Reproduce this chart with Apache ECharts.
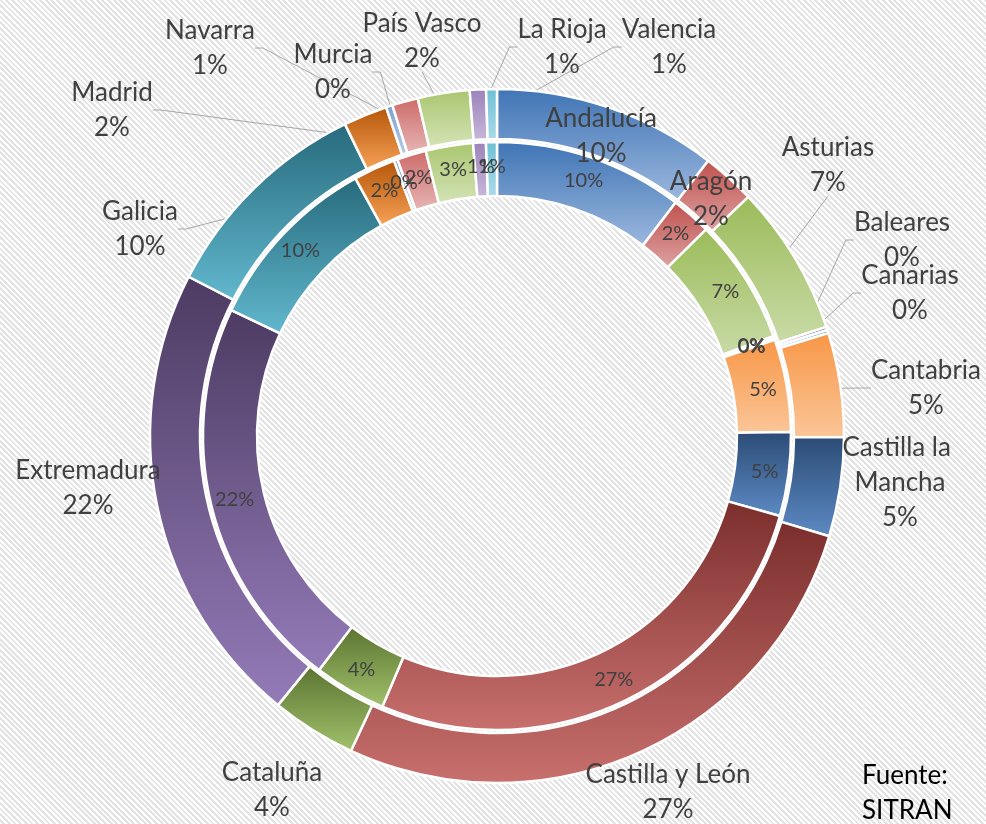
<!DOCTYPE html>
<html>
<head>
<meta charset="utf-8">
<title>Distribución por comunidades</title>
<script src="https://cdn.jsdelivr.net/npm/echarts@6/dist/echarts.min.js"></script>
<style>
    html, body { margin: 0; padding: 0; }
    body {
        width: 986px; height: 824px; overflow: hidden;
        background: repeating-linear-gradient(45deg, #ffffff 0px, #ffffff 2px, #e3e3e3 2px, #e3e3e3 4px);
    }
    #grafico { width: 986px; height: 824px; }
</style>
</head>
<body>
<div id="grafico"></div>
<script>
// comunidades, en el orden de las agujas del reloj
var regiones = ['Andalucía', 'Aragón', 'Asturias', 'Baleares', 'Canarias', 'Cantabria',
    'Castilla la Mancha', 'Castilla y León', 'Cataluña', 'Extremadura', 'Galicia',
    'Madrid', 'Murcia', 'Navarra', 'País Vasco', 'La Rioja', 'Valencia'];

// anillo interior (%)
var pctInterior = [10.4, 2.2, 6.9, 0.1, 0.1, 5.1, 4.6, 27.0, 3.97, 21.7, 9.97,
    2.3, 0.2, 1.6, 2.6, 0.7, 0.6];

// anillo exterior (%)
var pctExterior = [10.36, 2.47, 6.97, 0.15, 0.15, 4.83, 4.58, 27.1, 3.94, 21.6, 10.14,
    2.03, 0.3, 1.2, 2.4, 0.75, 0.5];

// colores: arriba / abajo del degradado
var colorArriba = ['#3f74b5', '#c0504d', '#9bbb59', '#8064a2', '#4bacc6', '#f79646',
    '#2b4b75', '#7a2e2c', '#5a7330', '#4d3b62', '#276a7c', '#b45508',
    '#7d9fd0', '#cc6a68', '#a9c66e', '#9a82b8', '#6cc0d6'];
var colorAbajo = ['#9cb8de', '#dda3a2', '#c9dba7', '#b9a8d1', '#a5d6e4', '#fbc699',
    '#5d8ac4', '#c8706e', '#a2c26c', '#937bb8', '#62b8ce', '#f7a257',
    '#b8cce8', '#e7b6b5', '#d4e3b7', '#c8b8da', '#abdbe8'];

// posición de las etiquetas exteriores (centro del bloque de texto)
var posEtiqueta = {
    'Andalucía': [601, 136], 'Aragón': [711, 199], 'Asturias': [828, 165],
    'Baleares': [902, 240], 'Canarias': [910, 293], 'Cantabria': [926, 388],
    'Castilla la Mancha': [900, 483], 'Castilla y León': [668, 792],
    'Cataluña': [272, 790], 'Extremadura': [88, 488], 'Galicia': [140, 229],
    'Madrid': [112, 110], 'Murcia': [333, 72], 'Navarra': [210, 48],
    'País Vasco': [422, 41], 'La Rioja': [562, 47], 'Valencia': [669, 47]
};
var conLinea = ['Asturias', 'Baleares', 'Canarias', 'Cantabria', 'Galicia', 'Madrid',
    'Murcia', 'Navarra', 'País Vasco', 'La Rioja', 'Valencia'];

var cx = 497, cy = 436;

function degradado(i) {
    return new echarts.graphic.LinearGradient(0, 0, 0, 1, [
        { offset: 0, color: colorArriba[i] },
        { offset: 1, color: colorAbajo[i] }
    ]);
}

function datos(valores, exterior) {
    return regiones.map(function (r, i) {
        var d = { name: r, value: valores[i], itemStyle: { color: degradado(i) } };
        if (exterior && r === 'Castilla la Mancha') {
            d.label = { width: 135, overflow: 'break' };
        }
        return d;
    });
}

function angulosMedios(valores) {
    var total = valores.reduce(function (a, b) { return a + b; }, 0);
    var acum = 0;
    return valores.map(function (v) {
        var a = (acum + v / 2) / total * Math.PI * 2;
        acum += v;
        return a;
    });
}
var angExt = angulosMedios(pctExterior);

function redondeo(p) {
    return Math.round(p.percent) + '%';
}

// linea guía al estilo Excel: desde el centro del sector hasta el lado
// más cercano de la etiqueta (con un tramo corto horizontal si es lateral)
function lineaGuia(sx, sy, pos, w, h) {
    var l = pos[0] - w / 2, r = pos[0] + w / 2;
    if (sx < l - 20) {
        return [[sx, sy], [l - 8, pos[1]], [l, pos[1]]];
    }
    if (sx > r + 20) {
        return [[sx, sy], [r + 8, pos[1]], [r, pos[1]]];
    }
    var ey = sy > pos[1] ? pos[1] + h / 2 - 4 : pos[1] - h / 2 + 4;
    return [[sx, sy], [pos[0], ey]];
}

var myChart = echarts.init(document.getElementById('grafico'));

var option = {
    title: {
        text: 'Fuente:\nSITRAN',
        left: 857, top: 753,
        textStyle: { fontFamily: 'Lato', fontSize: 26, fontWeight: 'normal', color: '#000', lineHeight: 35 }
    },
    series: [
        {
            name: 'interior',
            type: 'pie',
            center: [cx, cy],
            radius: [240, 294],
            startAngle: 90,
            avoidLabelOverlap: false,
            minShowLabelAngle: 0,
            percentPrecision: 2,
            itemStyle: { borderColor: '#ffffff', borderWidth: 2.5 },
            label: {
                position: 'inside',
                formatter: redondeo,
                fontFamily: 'Lato', fontSize: 20, color: '#404040'
            },
            labelLine: { show: false },
            labelLayout: { hideOverlap: false },
            emphasis: { disabled: true },
            data: datos(pctInterior, false)
        },
        {
            name: 'exterior',
            type: 'pie',
            center: [cx, cy],
            radius: [297, 347],
            startAngle: 90,
            avoidLabelOverlap: false,
            percentPrecision: 2,
            itemStyle: { borderColor: '#ffffff', borderWidth: 2.5 },
            label: {
                position: 'outside',
                formatter: function (p) { return p.name + '\n' + Math.round(p.percent) + '%'; },
                fontFamily: 'Lato', fontSize: 26, color: '#404040',
                lineHeight: 35, align: 'center'
            },
            labelLine: { show: true, lineStyle: { color: '#a6a6a6', width: 1 } },
            labelLayout: function (p) {
                var nombre = regiones[p.dataIndex];
                var pos = posEtiqueta[nombre];
                var w = p.labelRect.width, h = p.labelRect.height;
                var res = { x: pos[0], y: pos[1], align: 'center', verticalAlign: 'middle' };
                var a = angExt[p.dataIndex];
                var sx = cx + 321 * Math.sin(a), sy = cy - 321 * Math.cos(a);
                if (conLinea.indexOf(nombre) >= 0) {
                    res.labelLinePoints = lineaGuia(sx, sy, pos, w, h);
                } else {
                    res.labelLinePoints = [[pos[0], pos[1]], [pos[0], pos[1]]];
                }
                return res;
            },
            emphasis: { disabled: true },
            data: datos(pctExterior, true)
        }
    ]
};
myChart.setOption(option);
</script>
</body>
</html>
